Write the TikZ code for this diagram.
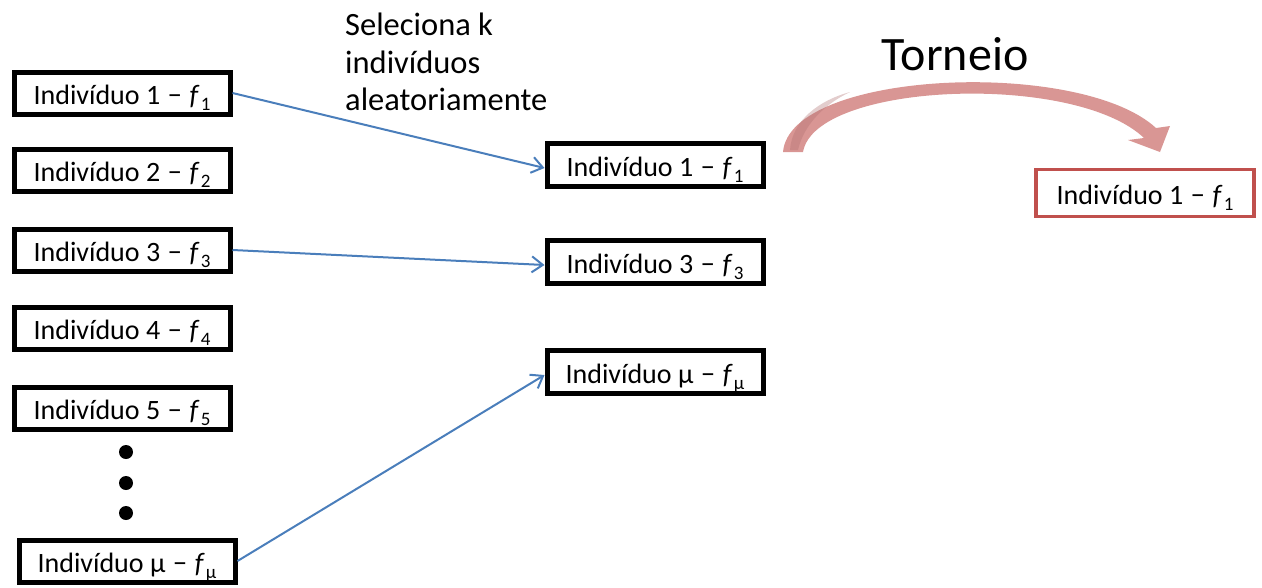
\documentclass[tikz,border=0pt]{standalone}
\usepackage{fontspec}
\setmainfont{Carlito}
\usetikzlibrary{arrows.meta}
\definecolor{arrowblue}{HTML}{4A7EBB}
\definecolor{redbox}{HTML}{C0504D}
\definecolor{torneiocol}{HTML}{D99694}
\definecolor{torneiodark}{HTML}{B07070}
\newcommand{\fsubx}[1]{\textit{f}\kern0.04em\raisebox{-0.22em}{\fontsize{19}{19}\selectfont #1}}
\newcommand{\mns}{\kern0.05em−\kern0.05em}
\begin{document}
\begin{tikzpicture}[x=1pt,y=-1pt,
  indbox/.style={draw=black, line width=5pt, minimum width=216pt, minimum height=42pt, inner sep=0pt, text height=25pt, text depth=2pt, font=\fontsize{28}{32}\selectfont},
  midbox/.style={indbox, minimum height=43pt},
  winbox/.style={indbox, draw=redbox, line width=3.2pt, minimum width=218pt, minimum height=47pt},
  sel/.style={draw=arrowblue, line width=2pt, -{Straight Barb[length=11pt,width=16pt]}},
  dotnode/.style={circle, fill=black, minimum size=14pt, inner sep=0pt},
  lbl/.style={inner sep=0pt, anchor=base west, font=\fontsize{32.5}{37}\selectfont}
]
\useasboundingbox (0,0) rectangle (1262,587);
% left column
\node[indbox] (L1) at (122,93) {Indivíduo 1 \mns{} \fsubx{1}};
\node[indbox] (L2) at (122,170) {Indivíduo 2 \mns{} \fsubx{2}};
\node[indbox] (L3) at (122,250) {Indivíduo 3 \mns{} \fsubx{3}};
\node[indbox] (L4) at (122,328) {Indivíduo 4 \mns{} \fsubx{4}};
\node[indbox] (L5) at (122,408) {Indivíduo 5 \mns{} \fsubx{5}};
\node[dotnode] (d1) at (126,452) {};
\node[dotnode] (d2) at (126,483) {};
\node[dotnode] (d3) at (126,513) {};
\node[indbox] (Lm) at (127,561) {Indivíduo μ \mns{} \fsubx{μ}};
% middle column
\node[midbox] (M1) at (655,165) {Indivíduo 1 \mns{} \fsubx{1}};
\node[midbox] (M3) at (655,262) {Indivíduo 3 \mns{} \fsubx{3}};
\node[midbox] (Mm) at (655,372) {Indivíduo μ \mns{} \fsubx{μ}};
% winner
\node[winbox] (W) at (1145,193) {Indivíduo 1 \mns{} \fsubx{1}};
% labels
\node[lbl] (s1) at (345,35) {Seleciona k};
\node[lbl] (s2) at (345,73) {indivíduos};
\node[lbl] (s3) at (345,110) {aleatoriamente};
\node[inner sep=0pt, anchor=base, font=\fontsize{48}{50}\selectfont] (T) at (955,70) {Torneio};
% selection arrows
\draw[sel] (L1.east) -- ([yshift=-3pt]M1.west);
\draw[sel] (L3.east) -- ([yshift=-3pt]M3.west);
\draw[sel] (Lm.east) -- ([yshift=-3pt]Mm.west);
% tournament curved arrow
\fill[torneiocol] (783,152) .. controls (790,70) and (1080,58) .. (1156,128)
  -- (1170,126) -- (1160,152) -- (1128,140) -- (1144,138)
  .. controls (1075,72) and (815,82) .. (803,152) -- cycle;
\fill[torneiodark, opacity=0.35] (790,150) .. controls (792,120) and (820,100) .. (850,92)
  .. controls (825,104) and (804,124) .. (798,150) -- cycle;
\end{tikzpicture}
\end{document}
